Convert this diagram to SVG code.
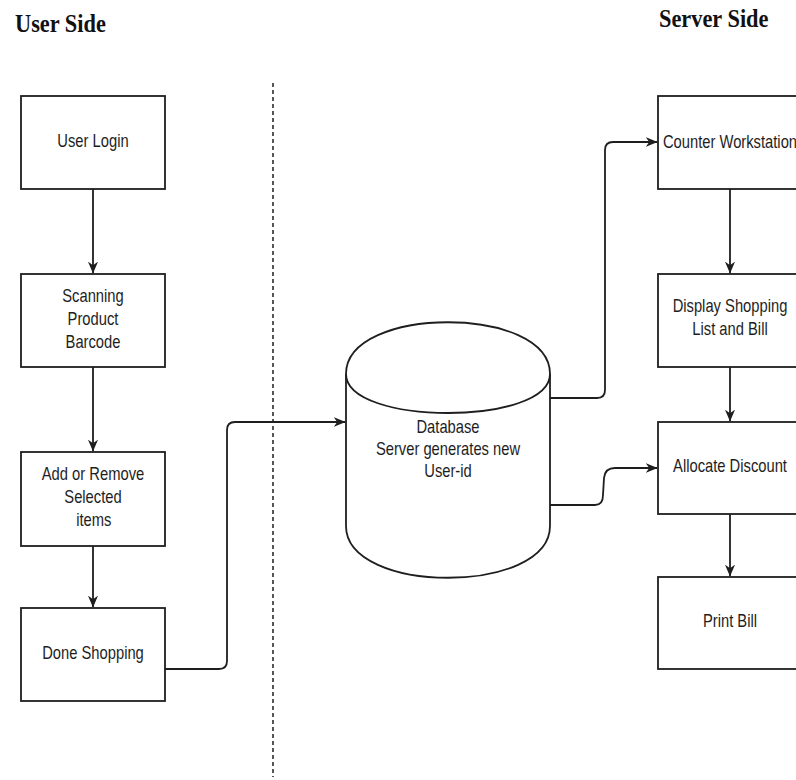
<svg xmlns="http://www.w3.org/2000/svg" width="796" height="780" viewBox="0 0 796 780">
  <style>
    .box { fill: #ffffff; stroke: #1e1e1e; stroke-width: 1.8; }
    .edge { fill: none; stroke: #1e1e1e; stroke-width: 1.8; }
    .lbl { font-family: "Liberation Sans", Arial, sans-serif; font-size: 18px; fill: #1e1e1e; text-anchor: middle; }
    .title { font-family: "Liberation Serif", "Times New Roman", serif; font-size: 26px; font-weight: bold; fill: #111111; }
  </style>
  <defs>
    <marker id="arrow" viewBox="0 0 10 10" refX="9.5" refY="5" markerWidth="12" markerHeight="12" markerUnits="userSpaceOnUse" orient="auto">
      <path d="M0,0.8 L10,5 L0,9.2 L3,5 Z" fill="#1e1e1e"/>
    </marker>
  </defs>
  <rect width="796" height="780" fill="#ffffff"/>

  <!-- headings -->
  <text class="title" transform="translate(15,32) scale(0.86,1)">User Side</text>
  <text class="title" transform="translate(659,27) scale(0.86,1)">Server Side</text>

  <!-- boundary between client and server -->
  <line x1="273" y1="83" x2="273" y2="777" stroke="#1e1e1e" stroke-width="1.5" stroke-dasharray="4 3"/>

  <!-- user side -->
  <g id="user-login">
    <rect class="box" x="21" y="96" width="144" height="93"/>
    <text class="lbl" transform="translate(93,147) scale(0.82,1)">User Login</text>
  </g>
  <g id="scanning">
    <rect class="box" x="21" y="274" width="144" height="93"/>
    <text class="lbl" transform="translate(93,302) scale(0.82,1)"><tspan x="0" y="0">Scanning</tspan><tspan x="0" y="23">Product</tspan><tspan x="0" y="46">Barcode</tspan></text>
  </g>
  <g id="add-remove">
    <rect class="box" x="21" y="452" width="144" height="94"/>
    <text class="lbl" transform="translate(93,480) scale(0.82,1)"><tspan x="0" y="0">Add or Remove</tspan><tspan x="0" y="23">Selected</tspan><tspan x="1" y="46">items</tspan></text>
  </g>
  <g id="done-shopping">
    <rect class="box" x="21" y="608" width="144" height="93"/>
    <text class="lbl" transform="translate(93,659) scale(0.82,1)">Done Shopping</text>
  </g>

  <!-- database -->
  <g id="database">
    <path class="box" d="M346,374 C346,305 550,305 550,374 L550,526 C550,595 346,595 346,526 Z"/>
    <path class="edge" d="M346,374 C346,426 550,426 550,374"/>
    <text class="lbl" transform="translate(448,433) scale(0.82,1)"><tspan x="0" y="0">Database</tspan><tspan x="0" y="22">Server generates new</tspan><tspan x="0" y="44">User-id</tspan></text>
  </g>

  <!-- server side -->
  <g id="counter-workstation">
    <rect class="box" x="658" y="96" width="144" height="93"/>
    <text class="lbl" transform="translate(730,148) scale(0.82,1)">Counter Workstation</text>
  </g>
  <g id="display-list">
    <rect class="box" x="658" y="274" width="144" height="93"/>
    <text class="lbl" transform="translate(730,312) scale(0.82,1)"><tspan x="0" y="0">Display Shopping</tspan><tspan x="0" y="23">List and Bill</tspan></text>
  </g>
  <g id="allocate-discount">
    <rect class="box" x="658" y="422" width="144" height="92"/>
    <text class="lbl" transform="translate(730,472) scale(0.82,1)">Allocate Discount</text>
  </g>
  <g id="print-bill">
    <rect class="box" x="658" y="577" width="144" height="92"/>
    <text class="lbl" transform="translate(730,627) scale(0.82,1)">Print Bill</text>
  </g>

  <!-- connectors -->
  <g id="connectors">
    <path class="edge" d="M93,189 L93,273" marker-end="url(#arrow)"/>
    <path class="edge" d="M93,367 L93,451" marker-end="url(#arrow)"/>
    <path class="edge" d="M93,546 L93,607" marker-end="url(#arrow)"/>
    <path class="edge" d="M165,669 L219,669 Q227,669 227,661 L227,430 Q227,422 235,422 L345,422" marker-end="url(#arrow)"/>
    <path class="edge" d="M550,398 L597,398 Q605,398 605,390 L605,150 Q605,142 613,142 L657,142" marker-end="url(#arrow)"/>
    <path class="edge" d="M550,505 L595,505 Q603,505 603,495 L604,478 Q605,468 615,468 L657,468" marker-end="url(#arrow)"/>
    <path class="edge" d="M730,189 L730,273" marker-end="url(#arrow)"/>
    <path class="edge" d="M730,367 L730,421" marker-end="url(#arrow)"/>
    <path class="edge" d="M730,514 L730,576" marker-end="url(#arrow)"/>
  </g>
</svg>
